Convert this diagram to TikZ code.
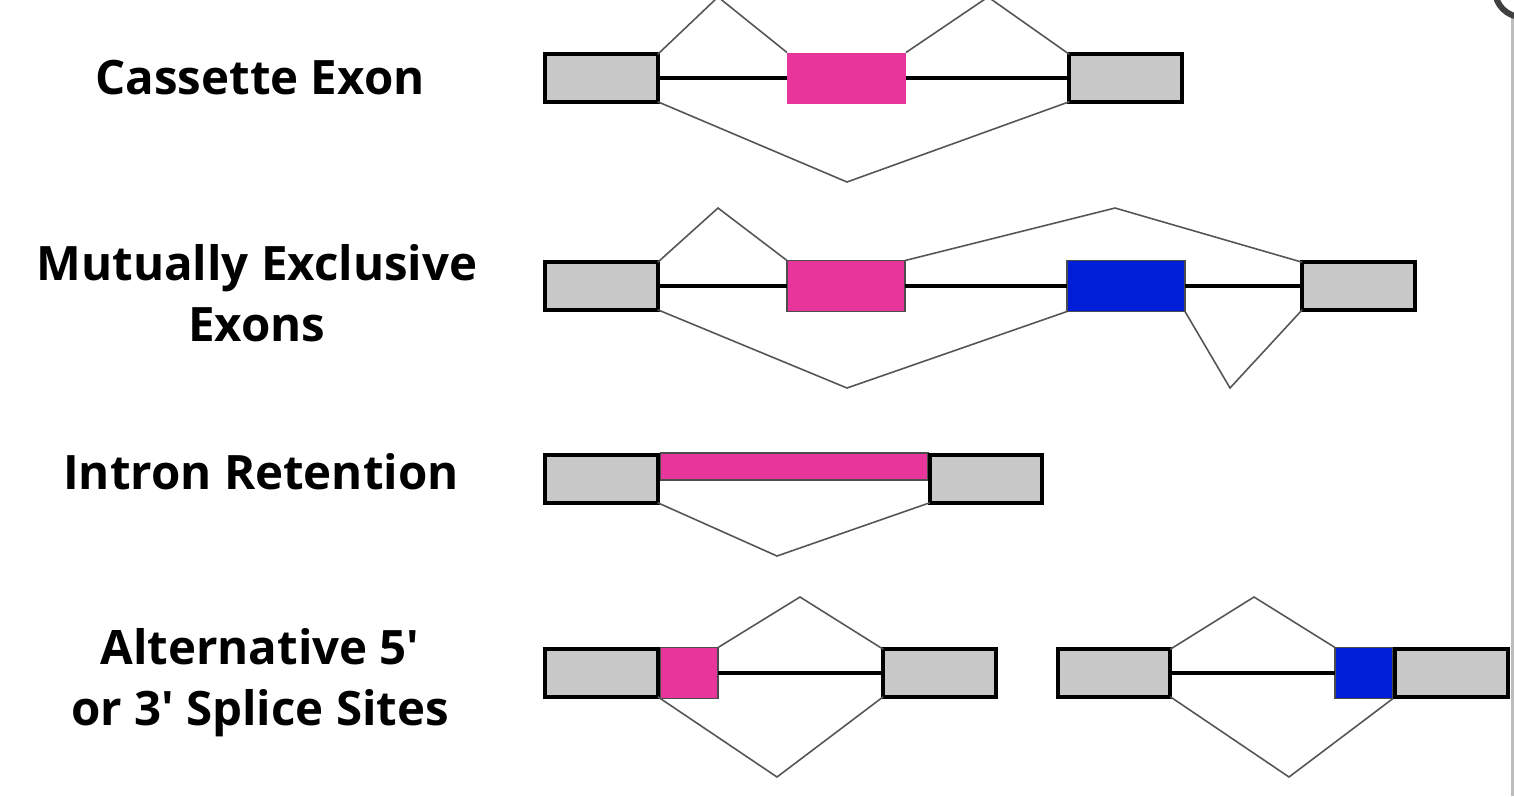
\documentclass[tikz,border=0pt]{standalone}
\usepackage{fontspec}
\setmainfont{Open Sans}
\usetikzlibrary{positioning}
\definecolor{ExonGray}{HTML}{C8C8C8}
\definecolor{Magenta}{HTML}{E8359B}
\definecolor{Royal}{HTML}{001ED8}
\definecolor{Splice}{HTML}{555555}
\definecolor{Frame}{HTML}{BDBDBD}

\begin{document}
\begin{tikzpicture}[x=0.02cm,y=-0.02cm,rowlabel/.style={font=\bfseries\fontsize{27}{34.7}\selectfont,align=center,inner sep=0pt},const/.style={draw=black,fill=ExonGray,line width=2.5pt,minimum width=2.25cm,minimum height=0.95cm,inner sep=0pt,outer sep=0pt},altexon/.style={fill=#1,draw=black!70,line width=0.6pt,minimum height=1.02cm,inner sep=0pt,outer sep=0pt},intron/.style={line width=2pt,draw=black},junction/.style={line width=0.9pt,draw=Splice}]
\useasboundingbox (0,0) rectangle (1514,796);
\fill[white] (0,0) rectangle (1514,796);
\node[rowlabel] (cassette) at (260,78){Cassette Exon};
\node[rowlabel] (mutual) at (257,293){Mutually Exclusive\\Exons};
\node[rowlabel] (retention) at (261,472){Intron Retention};
\node[rowlabel] (altsite) at (260,683){Alternative 5\textquotesingle\\or 3\textquotesingle{} Splice Sites};
\node[const] (ce1) at (601.5,78){};\node[altexon=Magenta,draw=none,minimum width=2.38cm] (ce2) at (846.5,78){};\node[const] (ce3) at (1125.5,78){};
\draw[intron] (ce1) -- (ce2);\draw[intron] (ce2) -- (ce3);
\coordinate (ceA) at (718,-3);\coordinate (ceB) at (988,-3);\coordinate (ceC) at (847,182);
\draw[junction] (ce1.north east) -- (ceA) -- (ce2.north west);\draw[junction] (ce2.north east) -- (ceB) -- (ce3.north west);\draw[junction] (ce1.south east) -- (ceC) -- (ce3.south west);
\node[const] (me1) at (601.5,286){};\node[altexon=Magenta,minimum width=2.36cm] (me2) at (846,286){};\node[altexon=Royal,minimum width=2.36cm] (me3) at (1126,286){};\node[const] (me4) at (1358.5,286){};
\draw[intron] (me1) -- (me2);\draw[intron] (me2) -- (me3);\draw[intron] (me3) -- (me4);
\coordinate (meA) at (718,208);\coordinate (meB) at (1115,208);\coordinate (meC) at (847,388);\coordinate (meD) at (1230,388);
\draw[junction] (me1.north east) -- (meA) -- (me2.north west);\draw[junction] (me2.north east) -- (meB) -- (me4.north west);
\draw[junction] (me1.south east) -- (meC) -- (me3.south west);\draw[junction] (me3.south east) -- (meD) -- (me4.south west);
\node[altexon=Magenta,minimum width=5.36cm,minimum height=0.54cm] (ir2) at (794,466.5){};
\node[const] (ir1) at (601.5,479){};\node[const] (ir3) at (986,479){};
\coordinate (irA) at (777,556);
\draw[junction] (ir1.south east) -- (irA) -- (ir3.south west);
\node[altexon=Magenta,minimum width=1.16cm] (as2) at (689,673){};
\node[const] (as1) at (601.5,673){};\node[const] (as3) at (939.5,673){};
\draw[intron] (as2) -- (as3);
\coordinate (asA) at (800,597);\coordinate (asB) at (777,777);
\draw[junction] (as2.north east) -- (asA) -- (as3.north west);\draw[junction] (as1.south east) -- (asB) -- (as3.south west);
\node[altexon=Royal,minimum width=1.16cm] (as5) at (1364,673){};
\node[const] (as4) at (1114,673){};\node[const] (as6) at (1451.5,673){};
\draw[intron] (as4) -- (as5);
\coordinate (asC) at (1254,597);\coordinate (asD) at (1289,777);
\draw[junction] (as4.north east) -- (asC) -- (as5.north west);\draw[junction] (as4.south east) -- (asD) -- (as5.south east);
\draw[Frame,line width=0.06cm] (1512,14) -- (1512,796);
\draw[black!75,line width=0.12cm] (1522,-10) circle[radius=0.54cm];
\end{tikzpicture}
\end{document}
